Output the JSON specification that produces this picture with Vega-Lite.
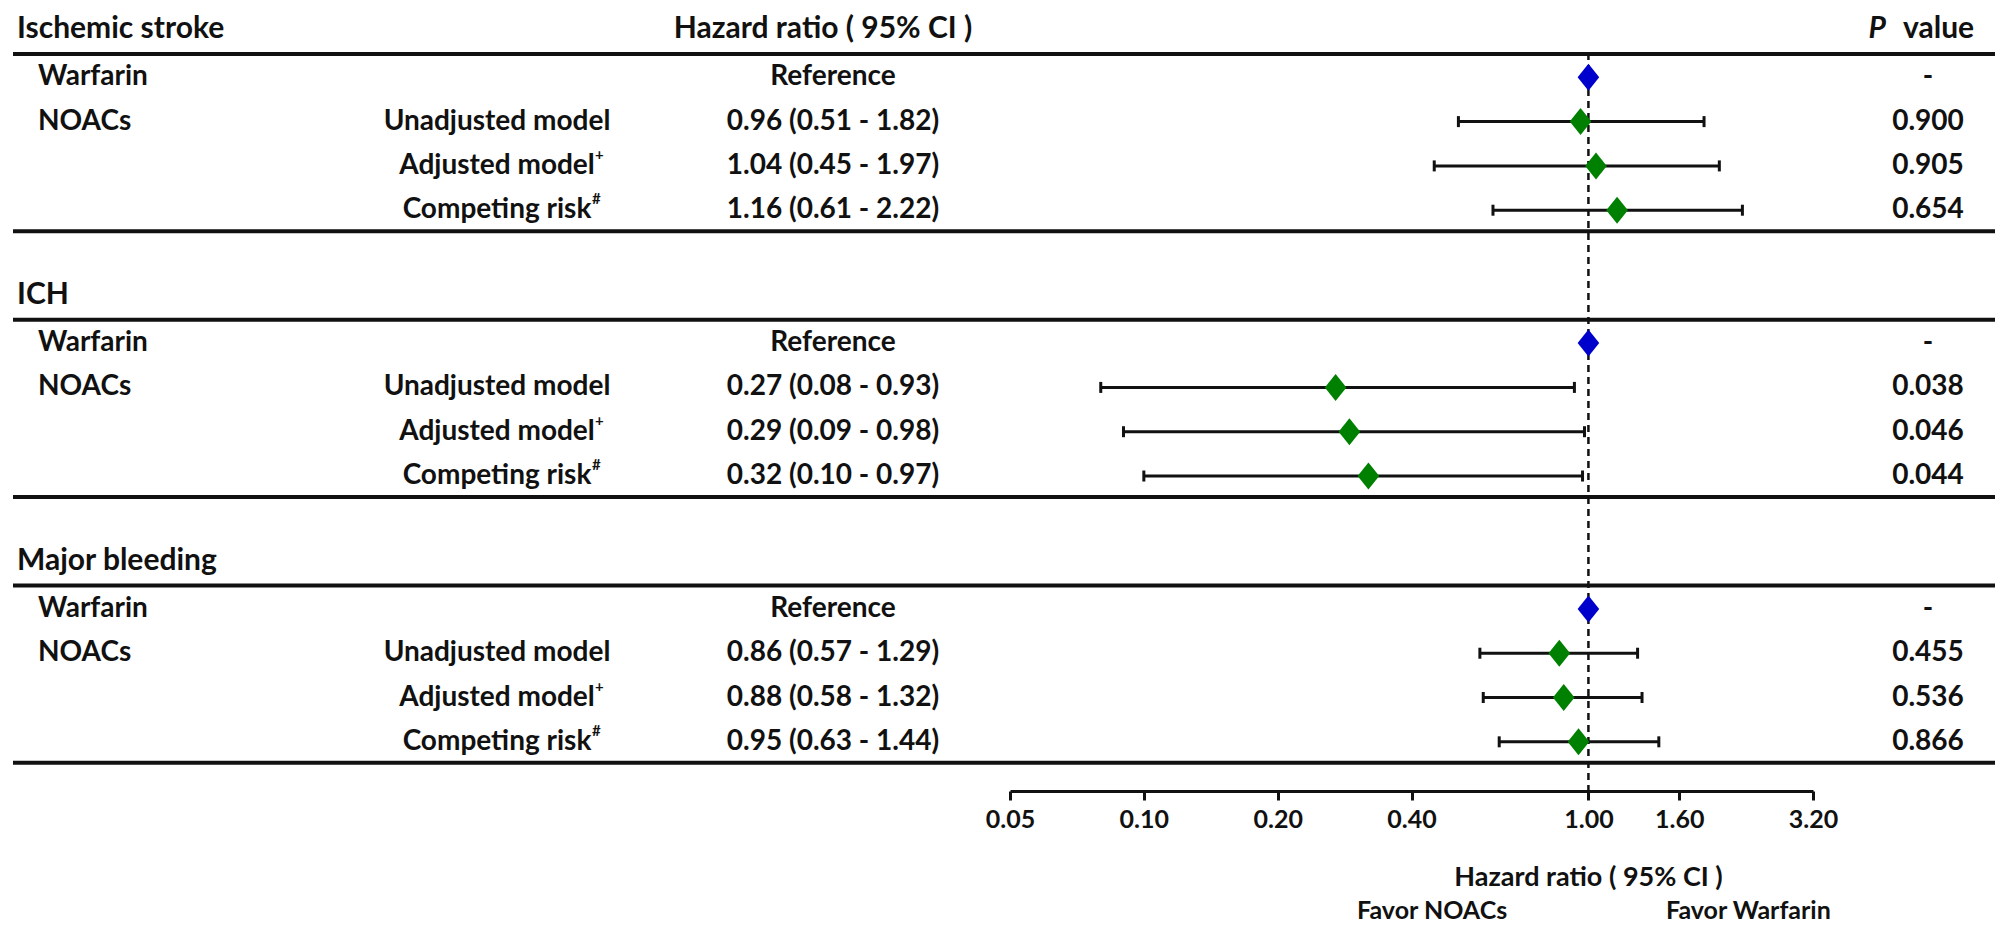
{
  "$schema": "https://vega.github.io/schema/vega-lite/v6.json",
  "width": 1982,
  "height": 791,
  "autosize": {"type": "none"},
  "padding": {"left": 13, "top": 0, "right": 0, "bottom": 134},
  "background": "white",
  "config": {"view": {"stroke": null}, "font": "Lato"},
  "datasets": {
    "rows": [
      {"k": 1, "drug": "Warfarin", "model": "", "sup": "", "hrText": "Reference", "p": "-", "hr": 1, "lo": null, "hi": null, "arm": "Warfarin"},
      {"k": 2, "drug": "NOACs", "model": "Unadjusted model", "sup": "", "hrText": "0.96 (0.51 - 1.82)", "p": "0.900", "hr": 0.96, "lo": 0.51, "hi": 1.82, "arm": "NOACs"},
      {"k": 3, "drug": "", "model": "Adjusted model", "sup": "+", "hrText": "1.04 (0.45 - 1.97)", "p": "0.905", "hr": 1.04, "lo": 0.45, "hi": 1.97, "arm": "NOACs"},
      {"k": 4, "drug": "", "model": "Competing risk", "sup": "#", "hrText": "1.16 (0.61 - 2.22)", "p": "0.654", "hr": 1.16, "lo": 0.61, "hi": 2.22, "arm": "NOACs"},
      {"k": 7, "drug": "Warfarin", "model": "", "sup": "", "hrText": "Reference", "p": "-", "hr": 1, "lo": null, "hi": null, "arm": "Warfarin"},
      {"k": 8, "drug": "NOACs", "model": "Unadjusted model", "sup": "", "hrText": "0.27 (0.08 - 0.93)", "p": "0.038", "hr": 0.27, "lo": 0.08, "hi": 0.93, "arm": "NOACs"},
      {"k": 9, "drug": "", "model": "Adjusted model", "sup": "+", "hrText": "0.29 (0.09 - 0.98)", "p": "0.046", "hr": 0.29, "lo": 0.09, "hi": 0.98, "arm": "NOACs"},
      {"k": 10, "drug": "", "model": "Competing risk", "sup": "#", "hrText": "0.32 (0.10 - 0.97)", "p": "0.044", "hr": 0.32, "lo": 0.10, "hi": 0.97, "arm": "NOACs"},
      {"k": 13, "drug": "Warfarin", "model": "", "sup": "", "hrText": "Reference", "p": "-", "hr": 1, "lo": null, "hi": null, "arm": "Warfarin"},
      {"k": 14, "drug": "NOACs", "model": "Unadjusted model", "sup": "", "hrText": "0.86 (0.57 - 1.29)", "p": "0.455", "hr": 0.86, "lo": 0.57, "hi": 1.29, "arm": "NOACs"},
      {"k": 15, "drug": "", "model": "Adjusted model", "sup": "+", "hrText": "0.88 (0.58 - 1.32)", "p": "0.536", "hr": 0.88, "lo": 0.58, "hi": 1.32, "arm": "NOACs"},
      {"k": 16, "drug": "", "model": "Competing risk", "sup": "#", "hrText": "0.95 (0.63 - 1.44)", "p": "0.866", "hr": 0.95, "lo": 0.63, "hi": 1.44, "arm": "NOACs"}
    ],
    "groups": [
      {"k": 0, "label": "Ischemic stroke"},
      {"k": 6, "label": "ICH"},
      {"k": 12, "label": "Major bleeding"}
    ],
    "seps": [
      {"after": 0}, {"after": 4}, {"after": 6}, {"after": 10}, {"after": 12}, {"after": 16}
    ],
    "colhead": [
      {"k": 0, "hrHead": "Hazard ratio ( 95% CI )", "pHead": "P", "vHead": "value"}
    ]
  },
  "layer": [
    {
      "layer": [
        {
          "data": {"name": "seps"},
          "mark": {"type": "rule", "strokeWidth": 4, "color": "#111111", "yOffset": 21},
          "encoding": {
            "y": {"field": "after", "type": "quantitative", "scale": {"domain": [-0.745, 17.11], "reverse": true, "nice": false, "zero": false}, "axis": null}
          }
        },
        {
          "data": {"values": [{}]},
          "mark": {"type": "rule", "strokeWidth": 2.5, "strokeDash": [7, 5], "color": "#111111"},
          "encoding": {
            "x": {
              "datum": 1, "type": "quantitative", "title": "Hazard ratio ( 95% CI )",
              "scale": {"type": "log", "domain": [0.05, 3.2], "range": [997, 1800], "nice": false},
              "axis": {
                "values": [0.05, 0.1, 0.2, 0.4, 1, 1.6, 3.2],
                "format": ".2f",
                "grid": false,
                "labelFont": "Lato", "labelFontWeight": "bold", "labelFontSize": 25, "labelColor": "#111111",
                "labelPadding": 7, "labelFlush": false, "labelOverlap": false,
                "domainColor": "#111111", "domainWidth": 3,
                "tickColor": "#111111", "tickWidth": 3, "tickSize": 9,
                "titleFont": "Lato", "titleFontWeight": "bold", "titleFontSize": 27, "titleColor": "#111111",
                "titleX": 1575, "titleY": 86, "titleAlign": "center", "titleBaseline": "middle"
              }
            },
            "y": {"datum": 0.45, "type": "quantitative", "scale": {"domain": [-0.745, 17.11], "reverse": true, "nice": false, "zero": false}, "axis": null},
            "y2": {"value": "height"}
          }
        },
        {
          "data": {"name": "rows"},
          "transform": [{"filter": "datum.lo != null"}],
          "mark": {"type": "rule", "strokeWidth": 3, "color": "#111111"},
          "encoding": {
            "x": {"field": "lo", "type": "quantitative", "title": "Hazard ratio ( 95% CI )"},
            "x2": {"field": "hi"},
            "y": {"field": "k", "type": "quantitative", "axis": null}
          }
        },
        {
          "data": {"name": "rows"},
          "transform": [{"filter": "datum.lo != null"}, {"fold": ["lo", "hi"], "as": ["end", "val"]}],
          "mark": {"type": "tick", "orient": "vertical", "size": 11, "thickness": 3, "color": "#111111", "opacity": 1},
          "encoding": {
            "x": {"field": "val", "type": "quantitative", "title": "Hazard ratio ( 95% CI )"},
            "y": {"field": "k", "type": "quantitative", "axis": null}
          }
        },
        {
          "data": {"name": "rows"},
          "mark": {"type": "point", "shape": "M0,-1L0.8,0L0,1L-0.8,0Z", "filled": true, "size": 729, "opacity": 1},
          "encoding": {
            "x": {"field": "hr", "type": "quantitative", "title": "Hazard ratio ( 95% CI )"},
            "y": {"field": "k", "type": "quantitative", "axis": null},
            "color": {"field": "arm", "type": "nominal", "scale": {"domain": ["Warfarin", "NOACs"], "range": ["#0000CC", "#008000"]}, "legend": null}
          }
        },
        {
          "data": {"values": [{}]},
          "mark": {"type": "text", "text": "Favor NOACs", "font": "Lato", "fontWeight": "bold", "fontSize": 25, "color": "#111111", "align": "center", "baseline": "middle", "dy": 120},
          "encoding": {
            "x": {"datum": 0.445, "type": "quantitative", "title": "Hazard ratio ( 95% CI )"},
            "y": {"value": "height"}
          }
        },
        {
          "data": {"values": [{}]},
          "mark": {"type": "text", "text": "Favor Warfarin", "font": "Lato", "fontWeight": "bold", "fontSize": 25, "color": "#111111", "align": "center", "baseline": "middle", "dy": 120},
          "encoding": {
            "x": {"datum": 2.29, "type": "quantitative", "title": "Hazard ratio ( 95% CI )"},
            "y": {"value": "height"}
          }
        }
      ]
    },
    {
      "layer": [
        {
          "data": {"name": "groups"},
          "mark": {"type": "text", "font": "Lato", "fontWeight": "bold", "fontSize": 30, "color": "#111111", "align": "left", "baseline": "middle", "dy": -4},
          "encoding": {
            "x": {"datum": 0, "type": "quantitative", "scale": {"type": "linear", "domain": [0, 1, 2, 3, 4, 5, 6], "range": [4, 25, 489, 820, 1875, 1890, 1915], "nice": false, "zero": false}, "axis": null},
            "y": {"field": "k", "type": "quantitative", "axis": null},
            "text": {"field": "label"}
          }
        },
        {
          "data": {"name": "colhead"},
          "mark": {"type": "text", "font": "Lato", "fontWeight": "bold", "fontSize": 30, "color": "#111111", "align": "center", "baseline": "middle", "dy": -4, "dx": -10},
          "encoding": {
            "x": {"datum": 3, "type": "quantitative"},
            "y": {"field": "k", "type": "quantitative", "axis": null},
            "text": {"field": "hrHead"}
          }
        },
        {
          "data": {"name": "colhead"},
          "mark": {"type": "text", "font": "Lato", "fontWeight": "bold", "fontStyle": "italic", "fontSize": 30, "color": "#111111", "align": "right", "baseline": "middle", "dy": -4, "dx": -2},
          "encoding": {
            "x": {"datum": 4, "type": "quantitative"},
            "y": {"field": "k", "type": "quantitative", "axis": null},
            "text": {"field": "pHead"}
          }
        },
        {
          "data": {"name": "colhead"},
          "mark": {"type": "text", "font": "Lato", "fontWeight": "bold", "fontSize": 30, "color": "#111111", "align": "left", "baseline": "middle", "dy": -4},
          "encoding": {
            "x": {"datum": 5, "type": "quantitative"},
            "y": {"field": "k", "type": "quantitative", "axis": null},
            "text": {"field": "vHead"}
          }
        },
        {
          "data": {"name": "rows"},
          "mark": {"type": "text", "font": "Lato", "fontWeight": "bold", "fontSize": 28, "color": "#111111", "align": "left", "baseline": "middle"},
          "encoding": {
            "x": {"datum": 1, "type": "quantitative"},
            "y": {"field": "k", "type": "quantitative", "axis": null},
            "text": {"field": "drug"}
          }
        },
        {
          "data": {"name": "rows"},
          "mark": {"type": "text", "font": "Lato", "fontWeight": "bold", "fontSize": 28, "color": "#111111", "align": "center", "baseline": "middle", "dx": -5},
          "encoding": {
            "x": {"datum": 2, "type": "quantitative"},
            "y": {"field": "k", "type": "quantitative", "axis": null},
            "text": {"field": "model"}
          }
        },
        {
          "data": {"name": "rows"},
          "transform": [{"filter": "datum.sup == '+'"}],
          "mark": {"type": "text", "font": "Lato", "fontWeight": "bold", "fontSize": 15, "color": "#111111", "align": "left", "baseline": "middle", "dx": 93, "dy": -11},
          "encoding": {
            "x": {"datum": 2, "type": "quantitative"},
            "y": {"field": "k", "type": "quantitative", "axis": null},
            "text": {"field": "sup"}
          }
        },
        {
          "data": {"name": "rows"},
          "transform": [{"filter": "datum.sup == '#'"}],
          "mark": {"type": "text", "font": "Lato", "fontWeight": "bold", "fontSize": 15, "color": "#111111", "align": "left", "baseline": "middle", "dx": 90, "dy": -11},
          "encoding": {
            "x": {"datum": 2, "type": "quantitative"},
            "y": {"field": "k", "type": "quantitative", "axis": null},
            "text": {"field": "sup"}
          }
        },
        {
          "data": {"name": "rows"},
          "mark": {"type": "text", "font": "Lato", "fontWeight": "bold", "fontSize": 28, "color": "#111111", "align": "center", "baseline": "middle"},
          "encoding": {
            "x": {"datum": 3, "type": "quantitative"},
            "y": {"field": "k", "type": "quantitative", "axis": null},
            "text": {"field": "hrText"}
          }
        },
        {
          "data": {"name": "rows"},
          "mark": {"type": "text", "font": "Lato", "fontWeight": "bold", "fontSize": 28, "color": "#111111", "align": "center", "baseline": "middle"},
          "encoding": {
            "x": {"datum": 6, "type": "quantitative"},
            "y": {"field": "k", "type": "quantitative", "axis": null},
            "text": {"field": "p"}
          }
        }
      ]
    }
  ],
  "resolve": {"scale": {"x": "independent"}, "axis": {"x": "independent"}}
}
